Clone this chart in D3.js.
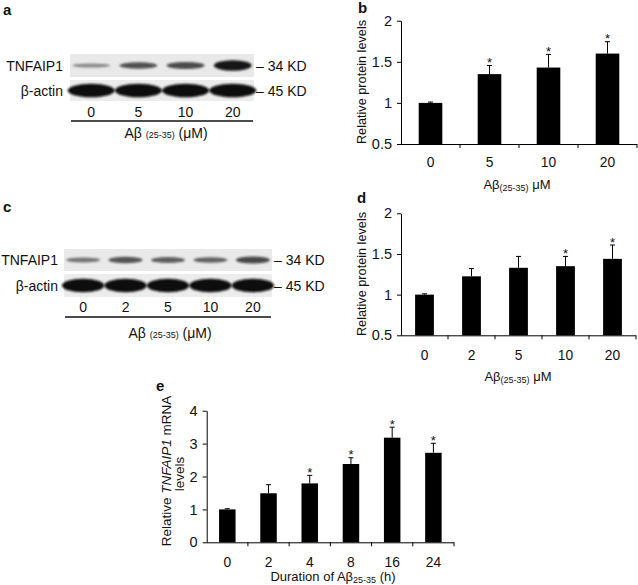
<!DOCTYPE html>
<html><head><meta charset="utf-8">
<script src="https://cdn.jsdelivr.net/npm/d3@7"></script>
<style>
body{margin:0;background:#fff;}
svg{display:block;font-family:"Liberation Sans",Arial,sans-serif;}
</style></head><body>
<svg id="fig" width="638" height="585"></svg>
<script>
// ---------- data ----------
const dosesA = ["0","5","10","20"];
const blotA_TNFAIP1 = [0.45,0.72,0.75,1.0];
const blotA_actin = [1,1,1,1];

const dosesC = ["0","2","5","10","20"];
const blotC_TNFAIP1 = [0.55,0.7,0.66,0.64,0.76];
const blotC_actin = [1,1,1,1,1];

const dosesB = ["0","5","10","20"];
const meanB = [1.0,1.35,1.43,1.60];
const errB = [0.01,0.105,0.16,0.145];
const sigB = [false,true,true,true];

const dosesD = ["0","2","5","10","20"];
const meanD = [1.0,1.225,1.33,1.35,1.44];
const errD = [0.01,0.095,0.14,0.12,0.17];
const sigD = [false,false,false,true,true];

const hoursE = ["0","2","4","8","16","24"];
const meanE = [1.0,1.49,1.79,2.38,3.18,2.72];
const errE = [0.02,0.26,0.245,0.19,0.32,0.29];
const sigE = [false,false,true,true,true,true];

const yTicksProtein = [0.5,1,1.5,2];
const yTicksMRNA = [0,1,2,3,4];

// ---------- drawing ----------
const svg = d3.select("#fig");
const INK = "#111";
const defs = svg.append("defs");
defs.append("filter").attr("id","blur").attr("x","-20%").attr("y","-60%").attr("width","140%").attr("height","220%")
  .append("feGaussianBlur").attr("stdDeviation",1.3);

function panelLetter(t,x,y){
  svg.append("text").attr("x",x).attr("y",y).attr("font-size",15).attr("font-weight","bold").attr("fill",INK).text(t);
}

function blot(lanes, tnf, actin, o){
  const g = svg.append("g");
  const x = d3.scaleBand().domain(lanes).range([o.x0,o.x1]).paddingInner(0.2).paddingOuter(0.05);
  g.append("rect").attr("x",o.x0).attr("y",o.t0).attr("width",o.x1-o.x0).attr("height",o.t1-o.t0).attr("fill","#e9e9e9");
  g.append("rect").attr("x",o.x0).attr("y",o.a0).attr("width",o.x1-o.x0).attr("height",o.a1-o.a0).attr("fill","#ececec");
  const tc=(o.t0+o.t1)/2, ac=(o.a0+o.a1)/2;
  g.selectAll(null).data(lanes).join("ellipse")
    .attr("cx",d=>x(d)+x.bandwidth()/2).attr("cy",tc)
    .attr("rx",x.bandwidth()/2).attr("ry",(d,i)=>1.2+4*tnf[i]*tnf[i])
    .attr("fill","#141414").attr("opacity",(d,i)=>tnf[i]).attr("filter","url(#blur)");
  g.selectAll(null).data(lanes).join("ellipse")
    .attr("cx",d=>x(d)+x.bandwidth()/2).attr("cy",ac)
    .attr("rx",x.step()*0.5).attr("ry",(d,i)=>6.8*actin[i])
    .attr("fill","#0a0a0a").attr("filter","url(#blur)");
  g.append("text").attr("x",o.labX).attr("y",tc+5).attr("text-anchor","end").attr("font-size",14).attr("fill",INK).text("TNFAIP1");
  g.append("text").attr("x",o.labX).attr("y",ac+5).attr("text-anchor","end").attr("font-size",14).attr("fill",INK).text("β-actin");
  g.append("text").attr("x",o.x1+2).attr("y",tc+5).attr("font-size",14).attr("fill",INK).text("– 34 KD");
  g.append("text").attr("x",o.x1+2).attr("y",ac+5).attr("font-size",14).attr("fill",INK).text("– 45 KD");
  g.selectAll(null).data(lanes).join("text")
    .attr("x",d=>x(d)+x.bandwidth()/2).attr("y",o.numY).attr("text-anchor","middle").attr("font-size",14).attr("fill",INK).text(d=>d);
  g.append("line").attr("x1",o.x0+1).attr("x2",o.x1-1).attr("y1",o.lineY).attr("y2",o.lineY).attr("stroke",INK).attr("stroke-width",1.3);
  const t = g.append("text").attr("x",o.titleX).attr("y",o.titleY).attr("text-anchor","middle").attr("font-size",14).attr("fill",INK);
  t.append("tspan").text("Aβ ");
  t.append("tspan").attr("font-size",9).text("(25-35)");
  t.append("tspan").text(" (μM)");
}

function barChart(cats, means, errs, sig, o){
  const g = svg.append("g");
  const x = d3.scaleBand().domain(cats).range([o.x0,o.x1]).paddingInner(0.6).paddingOuter(0.3);
  const y = d3.scaleLinear().domain(o.yDomain).range([o.yB,o.yT]);
  const cx = d=>x(d)+x.bandwidth()/2;
  g.selectAll(null).data(cats).join("rect")
    .attr("x",d=>x(d)).attr("width",x.bandwidth())
    .attr("y",(d,i)=>y(means[i])).attr("height",(d,i)=>y(o.yDomain[0])-y(means[i]))
    .attr("fill","#000");
  g.selectAll(null).data(cats).join("line")
    .attr("x1",cx).attr("x2",cx).attr("y1",(d,i)=>y(means[i])).attr("y2",(d,i)=>y(means[i]+errs[i]))
    .attr("stroke","#000").attr("stroke-width",1);
  g.selectAll(null).data(cats).join("line")
    .attr("x1",d=>cx(d)-2.5).attr("x2",d=>cx(d)+2.5).attr("y1",(d,i)=>y(means[i]+errs[i])).attr("y2",(d,i)=>y(means[i]+errs[i]))
    .attr("stroke","#000").attr("stroke-width",1);
  g.selectAll(null).data(cats.filter((d,i)=>sig[i])).join("text")
    .attr("x",cx).attr("y",d=>{const i=cats.indexOf(d);return y(means[i]+errs[i])+1.5;})
    .attr("text-anchor","middle").attr("font-size",13).attr("fill",INK).text("*");
  const ya = d3.axisLeft(y).tickValues(o.yTicks).tickSize(4).tickSizeOuter(0).tickPadding(5).tickFormat(d3.format("~g"));
  const yg = g.append("g").attr("transform",`translate(${o.x0},0)`).call(ya);
  yg.selectAll("path,line").attr("stroke","#000");
  yg.selectAll("text").attr("font-size",14.5).attr("fill",INK).attr("font-family","Liberation Sans, Arial, sans-serif");
  g.append("line").attr("x1",o.x0).attr("x2",o.x1).attr("y1",o.yB+0.5).attr("y2",o.yB+0.5).attr("stroke","#000");
  g.selectAll(null).data(d3.range(1,cats.length+1)).join("line")
    .attr("x1",i=>o.x0+i*x.step()).attr("x2",i=>o.x0+i*x.step())
    .attr("y1",o.yB).attr("y2",o.yB+4).attr("stroke","#000");
  g.selectAll(null).data(cats).join("text")
    .attr("x",cx).attr("y",o.labY).attr("text-anchor","middle").attr("font-size",13.8).attr("fill",INK).text(d=>d);
  return g;
}

// Panel a
panelLetter("a",3,15);
blot(dosesA, blotA_TNFAIP1, blotA_actin, {x0:70,x1:254,t0:54,t1:77,a0:80,a1:101,labX:63,numY:117,lineY:121,titleX:166,titleY:138});

// Panel c
panelLetter("c",3,212);
blot(dosesC, blotC_TNFAIP1, blotC_actin, {x0:64,x1:272,t0:249,t1:271,a0:274,a1:297,labX:58,numY:312,lineY:317,titleX:170,titleY:338});

// Panel b
panelLetter("b",358,13);
barChart(dosesB, meanB, errB, sigB, {x0:401,x1:637,yB:144,yT:20.7,yDomain:[0.5,2],yTicks:yTicksProtein,labY:167});
function yTitleProtein(cx,cy){
  svg.append("text").attr("transform",`translate(${cx},${cy}) rotate(-90)`).attr("text-anchor","middle")
    .attr("font-size",12.7).attr("fill",INK).text("Relative protein levels");
}
yTitleProtein(366,82);
function xTitleAb(cx,by){
  const t = svg.append("text").attr("x",cx).attr("y",by).attr("text-anchor","middle").attr("font-size",13).attr("fill",INK);
  t.append("tspan").text("Aβ");
  t.append("tspan").attr("font-size",9).attr("dy",2).text("(25-35)");
  t.append("tspan").attr("dy",-2).text(" μM");
}
xTitleAb(517,189);

// Panel d
panelLetter("d",357,203);
barChart(dosesD, meanD, errD, sigD, {x0:401,x1:636,yB:335.3,yT:213.3,yDomain:[0.5,2],yTicks:yTicksProtein,labY:360});
yTitleProtein(366,274);
xTitleAb(518,381);

// Panel e
panelLetter("e",156,391);
barChart(hoursE, meanE, errE, sigE, {x0:206.7,x1:454,yB:542.3,yT:410.7,yDomain:[0,4],yTicks:yTicksMRNA,labY:567});
{
  const t1 = svg.append("text").attr("transform","translate(171,471) rotate(-90)").attr("text-anchor","middle").attr("font-size",13.5).attr("fill",INK);
  t1.append("tspan").text("Relative ");
  t1.append("tspan").attr("font-style","italic").text("TNFAIP1");
  t1.append("tspan").text(" mRNA");
  svg.append("text").attr("transform","translate(184,474) rotate(-90)").attr("text-anchor","middle").attr("font-size",13.5).attr("fill",INK).text("levels");
  const t2 = svg.append("text").attr("x",333).attr("y",581).attr("text-anchor","middle").attr("font-size",13).attr("fill",INK);
  t2.append("tspan").text("Duration of Aβ");
  t2.append("tspan").attr("font-size",9).attr("dy",2).text("25-35");
  t2.append("tspan").attr("dy",-2).text(" (h)");
}
</script>
</body></html>
